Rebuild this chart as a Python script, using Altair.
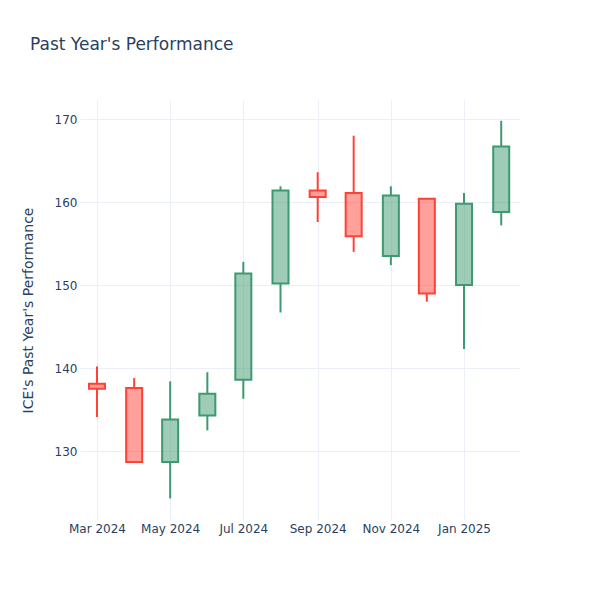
import altair as alt
import pandas as pd

months = ["2024-03-01", "2024-04-01", "2024-05-01", "2024-06-01", "2024-07-01", "2024-08-01",
          "2024-09-01", "2024-10-01", "2024-11-01", "2024-12-01", "2025-01-01", "2025-02-01"]
opens = [138.1, 137.6, 128.7, 134.3, 138.6, 150.2, 161.4, 161.1, 153.5, 160.4, 150.0, 158.8]
highs = [140.2, 138.8, 138.4, 139.5, 152.8, 161.9, 163.6, 168.0, 161.9, 160.5, 161.1, 169.8]
lows = [134.1, 128.6, 124.3, 132.5, 136.3, 146.7, 157.6, 154.0, 152.4, 148.0, 142.3, 157.2]
closes = [137.5, 128.7, 133.8, 136.9, 151.4, 161.4, 160.6, 155.9, 160.8, 149.0, 159.8, 166.7]

df = pd.DataFrame({"date": months, "open": opens, "high": highs, "low": lows, "close": closes})
df["body_lo"] = df[["open", "close"]].min(axis=1)
df["body_hi"] = df[["open", "close"]].max(axis=1)
df["dir"] = ["up" if c >= o else "down" for o, c in zip(opens, closes)]

FONT = "DejaVu Sans"
TXT = "#2a3f5f"
GRID = "#EBF0F8"

tick_dates = [alt.DateTime(year=y, month=m, date=1, utc=True)
              for y, m in [(2024, 3), (2024, 5), (2024, 7), (2024, 9), (2024, 11), (2025, 1)]]

x = alt.X("date:T",
          scale=alt.Scale(type="utc", nice=False, padding=0,
                          domain=[alt.DateTime(year=2024, month=2, date=15, hours=20, utc=True),
                                  alt.DateTime(year=2025, month=2, date=16, hours=16, utc=True)]),
          axis=alt.Axis(values=tick_dates, format="%b %Y", title=None, domain=False, tickSize=0,
                        labelPadding=3, labelFontSize=12, labelColor=TXT, labelFont=FONT,
                        gridColor=GRID, gridWidth=1, labelAngle=0))

yscale = alt.Scale(domain=[121.7, 172.3], nice=False, zero=False)
color = alt.Color("dir:N", scale=alt.Scale(domain=["up", "down"], range=["#3D9970", "#FF4136"]), legend=None)

base = alt.Chart(df)

wick_lo = base.mark_rule(strokeWidth=2).encode(
    x=x,
    y=alt.Y("low:Q", scale=yscale,
            axis=alt.Axis(values=[130, 140, 150, 160, 170], title="ICE's Past Year's Performance",
                          domain=False, tickSize=0, labelPadding=3, labelFontSize=12,
                          labelColor=TXT, labelFont=FONT, titleFont=FONT, titleFontSize=14,
                          titleColor=TXT, titleFontWeight="normal", titlePadding=19,
                          gridColor=GRID, gridWidth=1)),
    y2="body_lo:Q",
    color=color,
)
wick_hi = base.mark_rule(strokeWidth=2).encode(x=x, y=alt.Y("body_hi:Q", scale=yscale), y2="high:Q", color=color)
bodies = base.mark_bar(size=16, fillOpacity=0.5, strokeWidth=2).encode(
    x=x,
    y=alt.Y("body_lo:Q", scale=yscale),
    y2="body_hi:Q",
    fill=color,
    stroke=color,
)

chart = alt.layer(wick_lo, wick_hi, bodies).properties(
    width=440, height=420,
    title=alt.TitleParams("Past Year's Performance", anchor="start", frame="group", dx=-50, offset=46,
                          fontSize=17, color=TXT, font=FONT, fontWeight="normal"),
    autosize=alt.AutoSizeParams(type="none"),
    padding={"left": 72, "top": 92, "right": 72, "bottom": 72},
    background="white",
).configure_view(stroke=None)

chart.save("out.html", embed_options={"renderer": "svg", "actions": False})
